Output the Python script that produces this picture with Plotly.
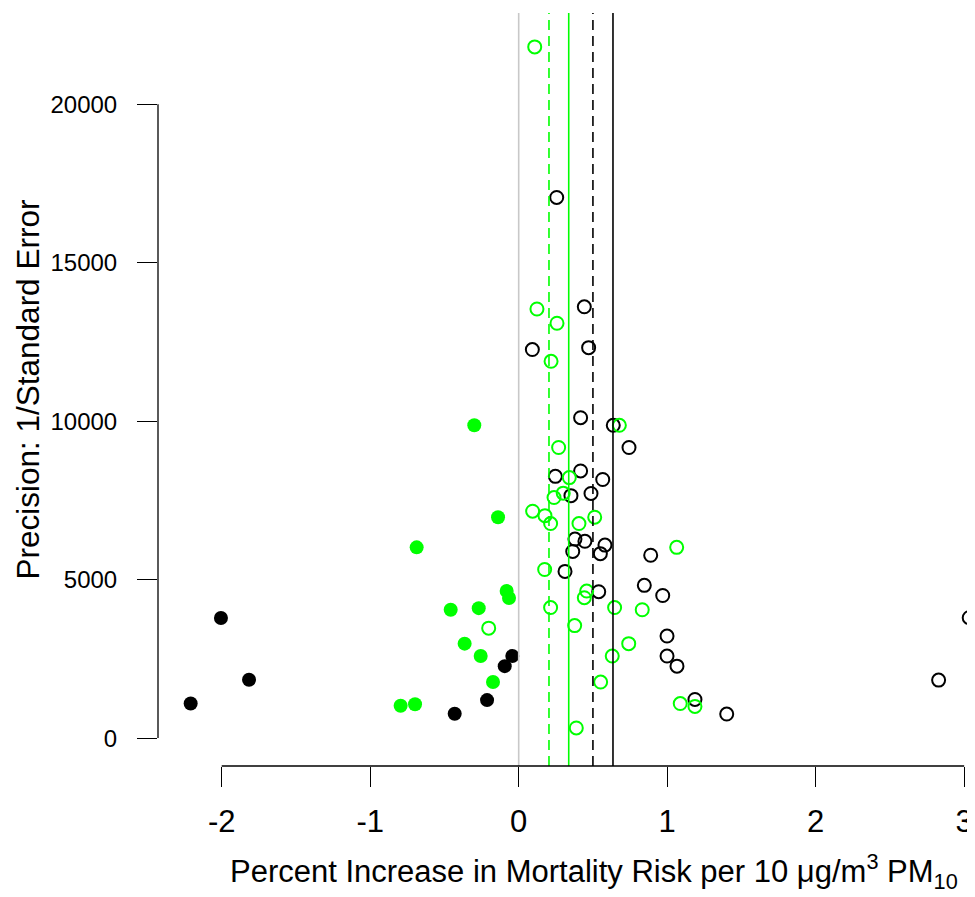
import plotly.graph_objects as go

# ---- data ----
black_open_x = [0.417, 0.637, 0.743, 0.247, 0.417, 0.566, 0.352, 0.487, 0.379, 0.446,
                0.364, 0.581, 0.550, 0.889, 0.312, 0.846, 0.970, 0.539, 0.999, 0.999,
                1.066, 1.187, 1.401, 3.034, 2.828, 0.256, 0.442, 0.092, 0.471]
black_open_y = [10110, 9870, 9170, 8260, 8430, 8160, 7650, 7720, 6280, 6210,
                5890, 6090, 5820, 5770, 5260, 4820, 4500, 4620, 3220, 2590,
                2270, 1220, 760, 3800, 1830, 17060, 13610, 12260, 12320]

black_filled_x = [-2.005, -1.816, -2.209, -0.431, -0.213, -0.094, -0.043]
black_filled_y = [3790, 1840, 1090, 770, 1200, 2270, 2590]

green_open_x = [0.678, 0.269, 0.341, 0.238, 0.300, 0.094, 0.177, 0.215, 0.406, 0.512,
                1.064, 0.175, 0.458, 0.442, 0.215, 0.646, 0.832, 0.377, 0.741, 0.630,
                0.552, 0.388, 1.088, 1.187, 0.108, 0.123, 0.258, 0.218, -0.202]
green_open_y = [9870, 9170, 8220, 7590, 7730, 7160, 7020, 6770, 6770, 6970,
                6020, 5320, 4640, 4430, 4120, 4120, 4050, 3550, 2980, 2590,
                1770, 320, 1090, 1000, 21810, 13540, 13090, 11890, 3470]

green_filled_x = [-0.299, -0.139, -0.687, -0.458, -0.269, -0.081, -0.065, -0.364,
                  -0.256, -0.173, -0.795, -0.698]
green_filled_y = [9870, 6970, 6020, 4050, 4100, 4640, 4420, 2980, 2590, 1770, 1020, 1070]

null_x = 0.0
green_fill_est = 0.204
green_obs_est = 0.337
black_fill_est = 0.500
black_obs_est = 0.635

x_ticks = [-2, -1, 0, 1, 2, 3]
y_ticks = [0, 5000, 10000, 15000, 20000]

GREEN = "#00FF00"
FONT = "Liberation Sans, Arial, sans-serif"

fig = go.Figure()

fig.add_trace(go.Scatter(x=black_filled_x, y=black_filled_y, mode="markers",
                         marker=dict(symbol="circle", size=14, color="black",
                                     line=dict(width=0)), showlegend=False))
fig.add_trace(go.Scatter(x=green_filled_x, y=green_filled_y, mode="markers",
                         marker=dict(symbol="circle", size=14, color=GREEN,
                                     line=dict(width=0)), showlegend=False))
fig.add_trace(go.Scatter(x=black_open_x, y=black_open_y, mode="markers",
                         marker=dict(symbol="circle-open", size=13, color="black",
                                     line=dict(width=2, color="black")), showlegend=False))
fig.add_trace(go.Scatter(x=green_open_x, y=green_open_y, mode="markers",
                         marker=dict(symbol="circle-open", size=13, color=GREEN,
                                     line=dict(width=2, color=GREEN)), showlegend=False))

# reference lines
vlines = [
    (null_x, "#C8C8C8", "solid"),
    (green_fill_est, GREEN, "10px,6px"),
    (green_obs_est, GREEN, "solid"),
    (black_fill_est, "black", "10px,6px"),
    (black_obs_est, "black", "solid"),
]
for xv, col, dash in vlines:
    fig.add_shape(type="line", xref="x", yref="paper", x0=xv, x1=xv, y0=0, y1=1,
                  line=dict(color=col, width=1.6, dash=dash))

# R-style axis lines spanning first to last tick
fig.add_shape(type="line", xref="x", yref="paper", x0=x_ticks[0], x1=x_ticks[-1],
              y0=0, y1=0, line=dict(color="black", width=1.3))
fig.add_shape(type="line", xref="paper", yref="y", x0=0, x1=0,
              y0=y_ticks[0], y1=y_ticks[-1], line=dict(color="black", width=1.3))

fig.update_xaxes(range=[-2.429, 3.073], tickvals=x_ticks,
                 ticktext=[str(v) for v in x_ticks], automargin=False,
                 ticks="outside", ticklen=20, tickwidth=1.3, tickcolor="black",
                 showline=False, showgrid=False, zeroline=False,
                 tickfont=dict(family=FONT, size=31, color="black"),
                 ticklabelstandoff=8)
fig.update_yaxes(range=[-880, 22880], tickvals=y_ticks,
                 ticktext=[str(v) for v in y_ticks], automargin=False,
                 ticks="outside", ticklen=20, tickwidth=1.3, tickcolor="black",
                 showline=False, showgrid=False, zeroline=False,
                 tickfont=dict(family=FONT, size=24, color="black"),
                 ticklabelstandoff=15)

fig.add_annotation(text="Precision: 1/Standard Error", xref="paper", yref="paper",
                   x=-0.1603, y=0.5, textangle=-90, showarrow=False,
                   xanchor="center", yanchor="middle",
                   font=dict(family=FONT, size=31.5, color="black"))
fig.add_annotation(text="Percent Increase in Mortality Risk per 10 \u03bcg/m<sup>3</sup> PM<sub>10</sub>",
                   xref="paper", yref="paper", x=0.5337, y=-0.14, showarrow=False,
                   xanchor="center", yanchor="middle",
                   font=dict(family=FONT, size=31, color="black"))

# the page body adds an 8px margin, so the figure is 8px smaller each way
fig.update_layout(width=967, height=889, plot_bgcolor="white", paper_bgcolor="white",
                  margin=dict(l=150, r=0, t=5, b=131), showlegend=False)

fig.write_html("out.html")
